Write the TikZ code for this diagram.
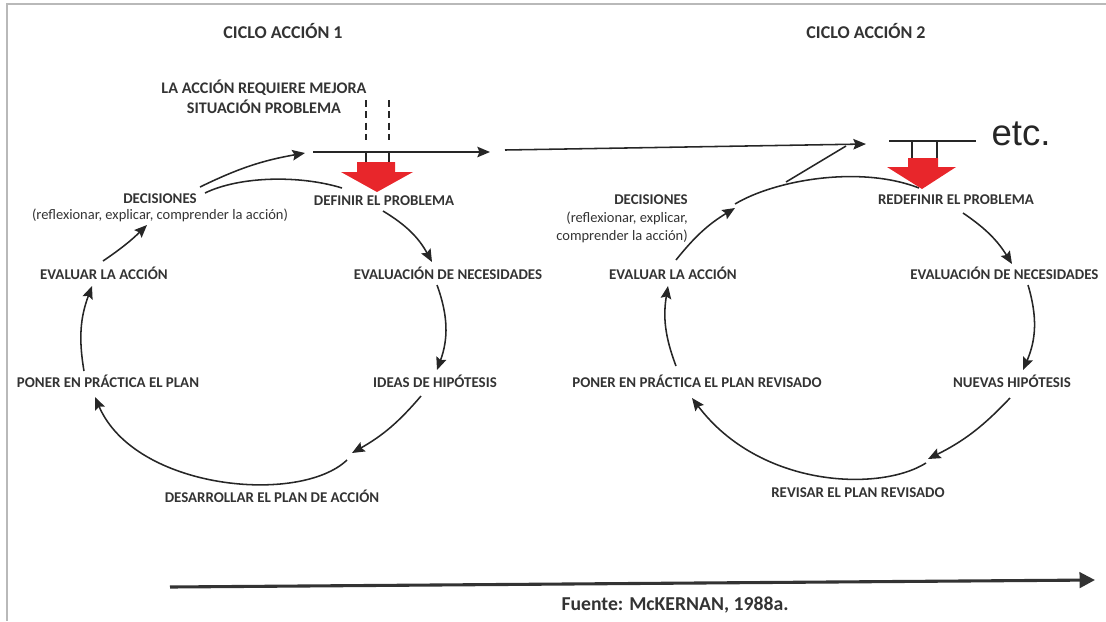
\documentclass[tikz,border=0pt]{standalone}
\usepackage{fontspec}
\setmainfont{Carlito}
\newfontfamily\etcfont{Liberation Sans}
\usetikzlibrary{arrows.meta}

\definecolor{tinta}{HTML}{333333}
\definecolor{rojo}{HTML}{E8262B}

\tikzset{
  etiqueta/.style={font=\bfseries\fontsize{10.6}{12.8}\selectfont, text=tinta, inner sep=0pt},
  nota/.style={font=\fontsize{10.3}{12.8}\selectfont, text=tinta, inner sep=0pt},
  titulo/.style={font=\bfseries\fontsize{12.8}{15}\selectfont, text=tinta, inner sep=0pt},
  trazo/.style={draw=black!85, line width=1.1pt},
  flecha/.style={trazo, -{Stealth[length=9pt,width=7.5pt,inset=1.5pt]}},
}

\begin{document}
\begin{tikzpicture}[x=0.025cm,y=-0.025cm]
\useasboundingbox (0,0) rectangle (1106,621);
\draw[gray!55, line width=0.8pt] (1106,4) -- (7,4) -- (7,621);

% textos
\node[titulo] (tit1) at (283,31) {CICLO ACCIÓN 1};
\node[titulo] (tit2) at (866,31) {CICLO ACCIÓN 2};
\node[etiqueta, font=\bfseries\fontsize{11.5}{13.5}\selectfont, align=center] (mejora) at (264,97) {LA ACCIÓN REQUIERE MEJORA\\[1pt]SITUACIÓN PROBLEMA};
\foreach \n/\x/\y/\txt in {dec1/160/199/DECISIONES, def1/384/201/{DEFINIR EL PROBLEMA},
  evn1/448/273/{EVALUACIÓN DE NECESIDADES}, hip1/435/381/{IDEAS DE HIPÓTESIS},
  des1/272/496/{DESARROLLAR EL PLAN DE ACCIÓN}, pon1/108/381/{PONER EN PRÁCTICA EL PLAN},
  eva1/104/273/{EVALUAR LA ACCIÓN}, def2/956/200/{REDEFINIR EL PROBLEMA},
  hip2/1012/381/{NUEVAS HIPÓTESIS}, rev2/858/493/{REVISAR EL PLAN REVISADO},
  pon2/697/381/{PONER EN PRÁCTICA EL PLAN REVISADO}, eva2/673/273/{EVALUAR LA ACCIÓN}}
  \node[etiqueta] (\n) at (\x,\y) {\txt};
\node[nota] (ref1) at (160,215) {(reflexionar, explicar, comprender la acción)};
\node[etiqueta, anchor=east] (dec2) at (688,200) {DECISIONES};
\node[nota, align=right, anchor=north east] (ref2) at (688,212) {(reflexionar, explicar,\\comprender la acción)};
\node[etiqueta, anchor=west] (evn2) at (910,273) {EVALUACIÓN DE NECESIDADES};
\node[font=\etcfont\fontsize{26}{30}\selectfont, text=black!85, inner sep=0pt] (etc) at (1021,134) {etc.};
\node[titulo, font=\bfseries\fontsize{14}{16}\selectfont] (fuente) at (675,605) {Fuente: McKERNAN, 1988a.};

% puntos
\path
(313,152) coordinate (L1) (490,152) coordinate (L2)
(505,150) coordinate (L3) (866,144) coordinate (L4)
(889,141) coordinate (L5) (976,141) coordinate (L6)
(170,587) coordinate (T1) (1095,580) coordinate (T2)
(103,261) coordinate (P1) (147,225) coordinate (P2)
(200,187) coordinate (P3) (305,153) coordinate (P4)
(205,193) coordinate (P5) (342,188) coordinate (P6)
(383,211) coordinate (P7) (432,262) coordinate (P8)
(437,285) coordinate (P9) (437,370) coordinate (P10)
(421,396) coordinate (P11) (352,453) coordinate (P12)
(347,460) coordinate (P13) (95,397) coordinate (P14)
(84,371) coordinate (P15) (92,286) coordinate (P16)
(676,260) coordinate (Q1) (735,208) coordinate (Q2)
(735,204) coordinate (Q3) (919,188) coordinate (Q4)
(786,182) coordinate (Q5) (846,146) coordinate (Q6)
(963,213) coordinate (Q7) (1012,264) coordinate (Q8)
(1028,285) coordinate (Q9) (1023,370) coordinate (Q10)
(1010,398) coordinate (Q11) (928,459) coordinate (Q12)
(926,463) coordinate (Q13) (692,398) coordinate (Q14)
(676,366) coordinate (Q15) (668,286) coordinate (Q16)
;

% ciclo 1
\draw[flecha] (P1) to[bend right=5] (P2);
\draw[flecha] (P3) to[bend left=8] (P4);
\draw[trazo] (P5) .. controls (240,176) and (300,175) .. (P6);
\draw[flecha] (P7) to[bend left=15] (P8);
\draw[flecha] (P9) to[bend left=20] (P10);
\draw[flecha] (P11) to[bend left=10] (P12);
\draw[flecha] (P13) .. controls (300,505) and (135,490) .. (P14);
\draw[flecha] (P15) to[bend left=15] (P16);

% ciclo 2
\draw[flecha] (Q1) to[bend left=10] (Q2);
\draw[trazo] (Q3) .. controls (775,180) and (860,165) .. (Q4);
\draw[trazo] (Q5) -- (Q6);
\draw[flecha] (Q7) to[bend left=12] (Q8);
\draw[flecha] (Q9) to[bend left=20] (Q10);
\draw[flecha] (Q11) to[bend left=10] (Q12);
\draw[flecha] (Q13) .. controls (880,492) and (760,488) .. (Q14);
\draw[flecha] (Q15) to[bend left=15] (Q16);

% linea de tiempo
\draw[flecha] (L1) -- (L2);
\draw[flecha] (L3) -- (L4);
\draw[trazo] (L5) -- (L6);
\foreach \x in {366,389} {
  \draw[trazo, dash pattern=on 5pt off 3pt] (\x,100) -- (\x,140);
  \draw[trazo] (\x,152) -- (\x,162);
}
\foreach \x in {912,937} \draw[trazo] (\x,141) -- (\x,158);
\fill[rojo] (357,162) -- (395,162) -- (395,172) -- (413,172) -- (377,192) -- (341,172) -- (357,172) -- cycle;
\fill[rojo] (908,158) -- (938,158) -- (938,167) -- (956,167) -- (922,189) -- (887,167) -- (908,167) -- cycle;
\draw[draw=black!80, line width=2.2pt, -{Triangle[length=11pt,width=11pt]}] (T1) -- (T2);
\end{tikzpicture}
\end{document}
